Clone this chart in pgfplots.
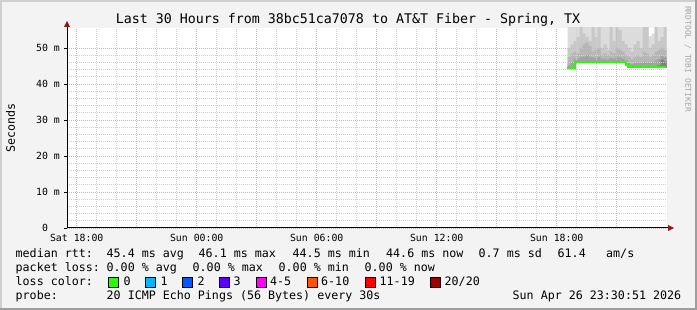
\documentclass[border=0pt]{standalone}
\usepackage{pgfplots}
\pgfplotsset{compat=1.18}
\usepackage{pgfplotstable}
\usepackage{fontspec}
\setmainfont{DejaVu Sans Mono}
\definecolor{bgc}{HTML}{F3F3F3}
\definecolor{shadeA}{HTML}{CFCFCF}
\definecolor{shadeB}{HTML}{9E9E9E}
\definecolor{mgrid}{HTML}{F0A8A8}
\definecolor{igrid}{HTML}{D0D0D0}
\definecolor{arrowc}{HTML}{8B1A1A}
\definecolor{medgreen}{HTML}{22FF00}
\definecolor{sA}{HTML}{DCDCDC}
\definecolor{sB}{HTML}{C8C8C8}
\definecolor{sC}{HTML}{B6B6B6}
\definecolor{sD}{HTML}{A2A2A2}
\definecolor{sE}{HTML}{7E7E7E}
\definecolor{lc0}{HTML}{26FF00}
\definecolor{lc1}{HTML}{00B8FF}
\definecolor{lc2}{HTML}{0059FF}
\definecolor{lc3}{HTML}{5E00FF}
\definecolor{lc4}{HTML}{FF00FF}
\definecolor{lc6}{HTML}{FF5500}
\definecolor{lc11}{HTML}{FF0000}
\definecolor{lc20}{HTML}{A10000}
\newcommand\lf{\fontsize{11.66bp}{14bp}\selectfont}
\newcommand\tf{\fontsize{9.85bp}{11bp}\selectfont}

\pgfplotstableread{
h m lo L1 L2 L3 L4 L5
42.55 44.5 44.2 57 50 47.5 45.3 44.2
42.70 44.5 44.2 57 51 48.5 46.0 44.2
42.85 45.0 44.4 57 52 49 47.0 44.4
43.00 46 45.7 57 53 48.5 47.0 45.7
43.15 46 45.7 57 57 50 47.5 45.7
43.30 46 45.7 57 54 51 47.5 45.7
43.45 46 45.7 57 53 51.5 48 45.7
43.60 46 45.7 57 52 50.5 47.5 45.7
43.75 46 45.7 57 57 49 47.3 45.7
43.90 46 45.7 57 53 49.5 47.2 45.7
44.05 46 45.7 57 57 50 47.5 45.7
44.20 46 45.7 57 50 48 47 45.7
44.35 46 45.7 57 51 48.5 47 45.7
44.50 46 45.7 56 49.5 48 46.8 45.7
44.65 46 45.7 57 57 49 47.2 45.7
44.80 46 45.7 57 52 48.5 47 45.7
44.95 46 45.7 57 57 50 47.5 45.7
45.10 46 45.7 57 55 49.5 47.3 45.7
45.25 46 45.7 57 52 49 47 45.7
45.40 45.3 45.0 57 51 48 46.5 45.0
45.55 44.6 44.3 57 50 47.5 45.8 44.3
45.70 44.6 44.3 57 49 47 45.6 44.3
45.85 44.6 44.3 57 51 47.5 45.8 44.3
46.00 44.6 44.3 57 52 48 46 44.3
46.15 44.6 44.3 57 50 47.5 45.8 44.3
46.30 44.6 44.3 57 57 49 46.2 44.3
46.45 44.6 44.3 57 56 48.5 46 44.3
46.60 44.6 44.3 53.3 50 47.5 45.8 44.3
46.75 44.6 44.3 54 51 48 46 44.3
46.90 44.6 44.3 57 57 49 46.5 44.3
47.05 44.6 44.3 57 52 49.5 47 45.2
47.20 44.6 44.3 57 53 50 47.8 46.8
47.35 44.6 44.3 57 57 49.5 47.5 46.3
47.50 44.6 44.3 57 57 49.5 47.5 46.3
}\smoke

\begin{document}
\begin{tikzpicture}
\path[use as bounding box] (0,0) rectangle (697bp,310bp);
\fill[bgc] (0,0) rectangle (697bp,310bp);
\fill[shadeA] (0,308bp) rectangle (697bp,310bp);
\fill[shadeA] (0,0) rectangle (2bp,310bp);
\fill[shadeB] (0,0) rectangle (697bp,2bp);
\fill[shadeB] (695bp,0) rectangle (697bp,310bp);
\fill[white] (67bp,82bp) rectangle (667bp,282bp);

\begin{axis}[
  at={(67bp,82bp)}, anchor=south west, scale only axis,
  width=600bp, height=200bp,
  xmin=17.514, xmax=47.514, ymin=0, ymax=55.556,
  axis on top,
  axis x line*=bottom, axis y line*=left, axis line style={draw=none},
  xtick={18,21,...,45},
  xticklabels={Sat 18:00,,Sun 00:00,,Sun 06:00,,Sun 12:00,,Sun 18:00,},
  minor x tick num=2,
  ytick={0,10,...,50},
  yticklabels={0\phantom{ m},10 m,20 m,30 m,40 m,50 m},
  minor y tick num=4,
  grid=both,
  major grid style={color=mgrid, line width=0.65bp, dash pattern=on 1bp off 1bp},
  minor grid style={color=igrid, line width=0.65bp, dash pattern=on 1bp off 1bp},
  tick align=outside, major tick length=3bp, minor tick length=0pt,
  xtick style={draw=none},
  ytick style={color=black, line width=0.8bp},
  xticklabel style={font=\tf, anchor=north, inner sep=0pt, yshift=-2.5bp},
  yticklabel style={font=\tf, anchor=east, inner sep=0pt, xshift=-4bp},
  /pgf/number format/assume math mode=true,
]
\addplot[const plot, fill=sA, draw=none] table[x=h, y=L1] {\smoke} \closedcycle;
\addplot[const plot, fill=sB, draw=none] table[x=h, y=L2] {\smoke} \closedcycle;
\addplot[const plot, fill=sC, draw=none] table[x=h, y=L3] {\smoke} \closedcycle;
\addplot[const plot, fill=sD, draw=none] table[x=h, y=L4] {\smoke} \closedcycle;
\addplot[const plot, fill=sE, draw=none] table[x=h, y=L5] {\smoke} \closedcycle;
\addplot[const plot, fill=white, draw=white, line width=1.2bp] table[x=h, y=lo] {\smoke} \closedcycle;
\end{axis}

\begin{axis}[
  at={(67bp,82bp)}, anchor=south west, scale only axis,
  width=600bp, height=200bp,
  xmin=17.514, xmax=47.514, ymin=0, ymax=55.556,
  hide axis,
]
\addplot[const plot, color=medgreen, line width=2bp] coordinates {
(42.51,44.5) (42.91,46.0) (45.46,45.3) (45.56,44.6) (47.46,44.6)};
\end{axis}

% axis lines and arrows
\draw[line width=1bp, black] (67bp,82bp) -- (669bp,82bp);
\fill[arrowc] (668bp,85bp) -- (674bp,82bp) -- (668bp,79bp) -- cycle;
\draw[line width=1bp, black] (67bp,82bp) -- (67bp,284bp);
\fill[arrowc] (64bp,283bp) -- (67bp,289bp) -- (70bp,283bp) -- cycle;

% title and labels
\node[anchor=base, inner sep=0pt] at (348bp,286bp) {\fontsize{13.3bp}{16bp}\selectfont Last 30 Hours from 38bc51ca7078 to AT\&T Fiber - Spring, TX};
\node[rotate=90, anchor=center, inner sep=0pt] at (10.5bp,182bp) {\lf Seconds};
\node[rotate=-90, anchor=center, inner sep=0pt, text=black!35] at (688bp,251bp) {\fontsize{8bp}{9bp}\selectfont RRDTOOL / TOBI OETIKER};

% legend
\begin{scope}[every node/.style={anchor=base west, inner sep=0pt}]
\node at (15.5bp,52.3bp) {\lf median rtt:};
\node at (106.5bp,52.3bp) {\lf 45.4 ms avg};
\node at (198.5bp,52.3bp) {\lf 46.1 ms max};
\node at (292.5bp,52.3bp) {\lf 44.5 ms min};
\node at (386bp,52.3bp) {\lf 44.6 ms now};
\node at (478.5bp,52.3bp) {\lf 0.7 ms sd};
\node at (557.5bp,52.3bp) {\lf 61.4};
\node at (606bp,52.3bp) {\lf am/s};

\node at (15.5bp,38.3bp) {\lf packet loss:};
\node at (106.5bp,38.3bp) {\lf 0.00 \% avg};
\node at (192.5bp,38.3bp) {\lf 0.00 \% max};
\node at (278.5bp,38.3bp) {\lf 0.00 \% min};
\node at (364.5bp,38.3bp) {\lf 0.00 \% now};

\node at (15.5bp,24.3bp) {\lf loss color:};
\node at (123.5bp,24.3bp) {\lf 0};
\node at (160.5bp,24.3bp) {\lf 1};
\node at (197.5bp,24.3bp) {\lf 2};
\node at (233.5bp,24.3bp) {\lf 3};
\node at (270bp,24.3bp) {\lf 4-5};
\node at (321bp,24.3bp) {\lf 6-10};
\node at (379.5bp,24.3bp) {\lf 11-19};
\node at (444.5bp,24.3bp) {\lf 20/20};

\node at (15.5bp,10.3bp) {\lf probe:};
\node at (106.5bp,10.3bp) {\lf 20 ICMP Echo Pings (56 Bytes) every 30s};
\node at (512.5bp,10.3bp) {\lf Sun Apr 26 23:30:51 2026};
\end{scope}
\begin{scope}[line width=0.8bp]
\filldraw[fill=lc0, draw=black] (108.5bp,22.7bp) rectangle (118.5bp,32.7bp);
\filldraw[fill=lc1, draw=black] (145.8bp,22.7bp) rectangle (155.8bp,32.7bp);
\filldraw[fill=lc2, draw=black] (182.8bp,22.7bp) rectangle (192.8bp,32.7bp);
\filldraw[fill=lc3, draw=black] (219.5bp,22.7bp) rectangle (229.5bp,32.7bp);
\filldraw[fill=lc4, draw=black] (256.8bp,22.7bp) rectangle (266.8bp,32.7bp);
\filldraw[fill=lc6, draw=black] (307.5bp,22.7bp) rectangle (317.5bp,32.7bp);
\filldraw[fill=lc11, draw=black] (365.8bp,22.7bp) rectangle (375.8bp,32.7bp);
\filldraw[fill=lc20, draw=black] (430.2bp,22.7bp) rectangle (440.2bp,32.7bp);
\end{scope}
\end{tikzpicture}
\end{document}
